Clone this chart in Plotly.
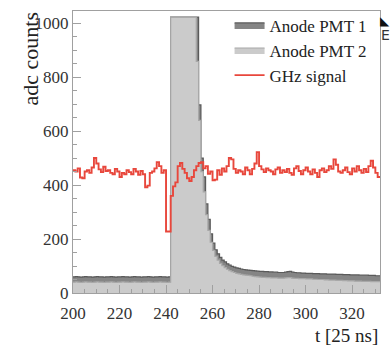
import plotly.graph_objects as go

# ---- data ----
bin_start = list(range(200, 332))  # 25 ns bins, 200..331

pmt1 = ([60, 61, 60, 59, 60, 61, 60, 60, 59, 60, 61, 60, 60, 59, 60, 60, 61, 60, 59, 60, 60,
         61, 60, 60, 59, 60, 61, 60, 60, 59, 60, 60, 61, 60, 59, 60, 60, 61, 60, 60, 59, 60]
        + [1022] * 12
        + [697, 500, 430, 330, 273, 219, 185, 160, 145, 132, 122, 115, 108, 103, 99, 96, 93,
           91, 89, 87, 86, 85, 84, 83, 82, 81, 80]
        + [80, 79, 79, 78, 78, 77, 77, 76, 76, 76]
        + [77, 79, 80, 77, 76, 75, 75, 74, 74, 73]
        + [73, 73, 72, 72, 72, 71, 71, 71, 70, 70]
        + [70, 70, 69, 69, 69, 68, 68, 68, 67, 67]
        + [67, 67, 66, 66, 66, 66, 65, 65, 65, 64, 64])

pmt2 = ([40, 41, 40, 39, 40, 41, 40, 40, 39, 40, 41, 40, 40, 39, 40, 40, 41, 40, 39, 40, 40,
         41, 40, 40, 39, 40, 41, 40, 40, 39, 40, 40, 41, 40, 39, 40, 40, 41, 40, 40, 39, 40]
        + [1022] * 11
        + [858, 640, 450, 375, 290, 232, 188, 158, 136, 122, 110, 101, 94, 88, 83, 79, 76, 73,
           71, 69, 67, 66, 65, 64, 62, 61, 60, 59]
        + [58, 58, 57, 57, 56, 56, 56, 55, 55, 55]
        + [56, 57, 57, 55, 54, 54, 53, 53, 53, 52]
        + [52, 52, 51, 51, 50, 50, 50, 49, 49, 48]
        + [48, 48, 47, 47, 47, 46, 46, 45, 45, 45]
        + [44, 44, 44, 43, 43, 43, 43, 42, 42, 42, 42])

ghz = [455, 450, 462, 428, 425, 450, 455, 445, 465, 500,
       480, 458, 448, 468, 452, 455, 445, 440, 460, 450,
       430, 445, 440, 455, 448, 440, 460, 450, 438, 452,
       440, 392, 398, 445, 450, 462, 485, 470, 445, 455,
       228, 228, 360, 395, 410, 470, 482, 460, 445, 425,
       415, 430, 455, 470, 482, 485, 462, 470, 442, 450,
       418, 420, 455, 438, 462, 450, 470, 500, 495, 460,
       445, 455, 450, 440, 465, 455, 440, 460, 480, 522,
       470, 458, 448, 462, 455, 450, 440, 458, 465, 445,
       455, 448, 460, 445, 438, 462, 470, 452, 440, 455,
       465, 450, 440, 458, 445, 430, 455, 462, 448, 455,
       470, 460, 495, 475, 450, 445, 455, 465, 448, 440,
       462, 450, 470, 455, 445, 460, 448, 470, 490, 465,
       445, 430]

x_ticks = [200, 220, 240, 260, 280, 300, 320]
y_ticks = [0, 200, 400, 600, 800, 1000]

names = ["Anode PMT 1", "Anode PMT 2", "GHz signal"]


def steps(vals):
    xs = bin_start + [bin_start[-1] + 1]
    ys = list(vals) + [vals[-1]]
    return xs, ys


SERIF = "Liberation Serif"

fig = go.Figure()
x1, y1 = steps(pmt1)
fig.add_trace(go.Scatter(x=x1, y=y1, name=names[0], mode="lines", line_shape="hv",
                         line=dict(color="#5a5a5a", width=1.2), fill="tozeroy",
                         fillcolor="#858585"))
x2, y2 = steps(pmt2)
fig.add_trace(go.Scatter(x=x2, y=y2, name=names[1], mode="lines", line_shape="hv",
                         line=dict(color="#a8a8a8", width=1.2), fill="tozeroy",
                         fillcolor="#cbcbcb"))
x3, y3 = steps(ghz)
fig.add_trace(go.Scatter(x=x3, y=y3, name=names[2], mode="lines", line_shape="hv",
                         line=dict(color="#e8473c", width=1.9)))

axis_common = dict(
    showgrid=False, zeroline=False, showline=True, linecolor="#a0a0a0", linewidth=1.2,
    mirror=True, ticks="inside", tickcolor="#a0a0a0", ticklen=8, tickwidth=1,
    tickfont=dict(family=SERIF, size=17, color="#333333"),
)

fig.update_xaxes(range=[200, 332], tickvals=x_ticks, ticktext=[str(v) for v in x_ticks],
                 minor=dict(dtick=5, tick0=200, ticks="inside", ticklen=4,
                            tickcolor="#a0a0a0"),
                 ticklabelstandoff=4,
                 **axis_common)
fig.update_yaxes(range=[0, 1045], tickvals=y_ticks, ticktext=[str(v) for v in y_ticks],
                 minor=dict(dtick=50, tick0=0, ticks="inside", ticklen=4,
                            tickcolor="#a0a0a0"),
                 **axis_common)

fig.update_layout(
    width=392, height=345,
    margin=dict(l=73, r=12, t=7, b=52),
    paper_bgcolor="white", plot_bgcolor="white",
    showlegend=True,
    legend=dict(x=0.51, y=1.013, xanchor="left", yanchor="top",
                bgcolor="rgba(255,255,255,0)", borderwidth=0,
                font=dict(family=SERIF, size=17, color="#222222"),
                itemwidth=30, tracegroupgap=0),
    annotations=[
        dict(text="adc counts", textangle=-90, xref="paper", yref="paper",
             x=-0.14, y=1.0, xanchor="center", yanchor="top", showarrow=False,
             font=dict(family=SERIF, size=22, color="#222222")),
        dict(text="t [25 ns]", xref="paper", yref="paper", x=1.0, y=-0.108,
             xanchor="right", yanchor="top", showarrow=False,
             font=dict(family=SERIF, size=19, color="#222222")),
        dict(text="◣", xref="paper", yref="paper", x=1.039, y=0.995,
             xanchor="right", yanchor="top", showarrow=False,
             font=dict(family="DejaVu Sans", size=12, color="#111111")),
        dict(text="E", xref="paper", yref="paper", x=1.039, y=0.95,
             xanchor="right", yanchor="top", showarrow=False,
             font=dict(family="DejaVu Sans", size=14, color="#333333")),
    ],
)

fig.write_html("out.html")
